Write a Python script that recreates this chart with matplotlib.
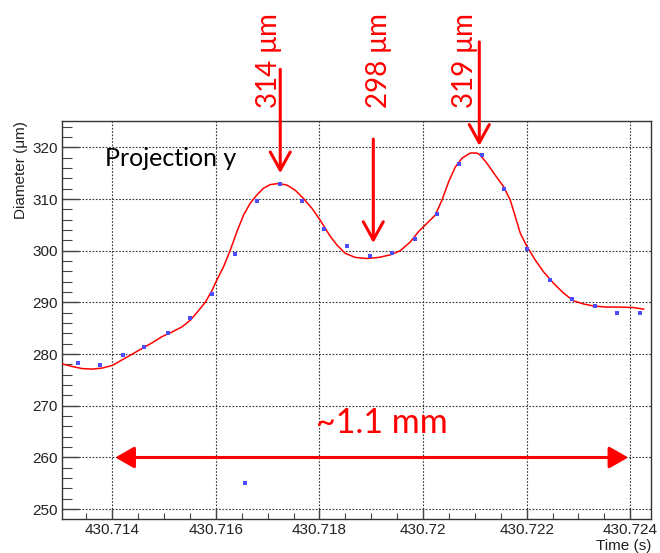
import matplotlib
matplotlib.use('Agg')
import matplotlib.pyplot as plt
from matplotlib.ticker import AutoMinorLocator

# measured points (blue dots)
t_points = [430.713338, 430.713768, 430.714207, 430.714618, 430.715068, 430.715506,
            430.715931, 430.716361, 430.716568, 430.716799, 430.717230, 430.717662,
            430.718093, 430.718537, 430.718967, 430.719400, 430.719836, 430.720268,
            430.720699, 430.721137, 430.721568, 430.722006, 430.722442, 430.722875,
            430.723311, 430.723743, 430.724180]
d_points = [278.2, 277.9, 279.9, 281.3, 284.0, 286.9,
            291.6, 299.3, 255.1, 309.6, 312.9, 309.7,
            304.3, 301.0, 299.0, 299.5, 302.3, 307.2,
            316.8, 318.6, 312.0, 300.4, 294.4, 290.6,
            289.3, 288.0, 288.0]

# smoothed curve (red)
t_curve = [430.713035, 430.713228, 430.713421, 430.713614, 430.713807, 430.714000,
           430.714193, 430.714386, 430.714579, 430.714772, 430.714965, 430.715158,
           430.715351, 430.715512, 430.715674, 430.715801, 430.715931, 430.715988,
           430.716149, 430.716278, 430.716407, 430.716535, 430.716664, 430.716793,
           430.716921, 430.717050, 430.717210, 430.717373, 430.717533, 430.717693,
           430.717855, 430.718015, 430.718208, 430.718338, 430.718498, 430.718691,
           430.718917, 430.719141, 430.719367, 430.719560, 430.719753, 430.719913,
           430.720075, 430.720236, 430.720365, 430.720492, 430.720622, 430.720751,
           430.720911, 430.721041, 430.721104, 430.721234, 430.721394, 430.721554,
           430.721683, 430.721780, 430.721876, 430.722006, 430.722166, 430.722326,
           430.722519, 430.722712, 430.722905, 430.723099, 430.723292, 430.723550,
           430.723807, 430.724064, 430.724257]
d_curve = [278.1, 277.6, 277.2, 277.1, 277.3, 277.8,
           278.9, 280.0, 281.1, 282.2, 283.4, 284.3,
           285.3, 286.6, 288.5, 290.1, 292.4, 293.7,
           296.9, 300.1, 303.7, 306.9, 309.2, 310.8,
           312.1, 312.8, 313.0, 312.7, 311.7, 310.1,
           308.2, 305.9, 302.8, 301.1, 299.5, 298.7,
           298.5, 298.7, 299.2, 300.0, 301.7, 303.7,
           305.3, 306.9, 309.8, 313.3, 316.2, 317.9,
           318.9, 318.9, 318.5, 316.9, 314.6, 312.4,
           309.8, 306.6, 303.4, 300.8, 298.2, 295.9,
           293.7, 291.8, 290.3, 289.7, 289.3, 289.1,
           289.1, 289.0, 288.7]

xtick_vals = [430.714, 430.716, 430.718, 430.720, 430.722, 430.724]
xtick_labels = ['430.714', '430.716', '430.718', '430.72', '430.722', '430.724']
ytick_vals = [250, 260, 270, 280, 290, 300, 310, 320]

# peak annotations
peak_labels = ['314 \u03bcm', '298 \u03bcm', '319 \u03bcm']
peak_arrow_t = [430.717243, 430.719039, 430.721085]
peak_arrow_top = [335.1, 321.6, 340.4]
peak_arrow_tip = [315.0, 301.5, 320.3]
peak_text_t = [430.717031, 430.719145, 430.720815]

span_start, span_end, span_y = 430.714058, 430.723961, 260.0

RED = '#ff0000'
CAL = ['Lato', 'DejaVu Sans']
ARIAL = ['Liberation Sans', 'DejaVu Sans']

fig = plt.figure(figsize=(6.6, 5.53), dpi=100)
ax = fig.add_axes([0.0939, 0.0615, 0.8925, 0.7197])

ax.plot(t_curve, d_curve, color=RED, lw=1.1, zorder=3)
ax.plot(t_points, d_points, 's', color='#4d4dff', ms=2.2, mew=0, zorder=4)

ax.set_xlim(430.71303, 430.7244)
ax.set_ylim(248.1, 325.1)
ax.set_xticks(xtick_vals, labels=xtick_labels)
ax.set_yticks(ytick_vals)
ax.xaxis.set_minor_locator(AutoMinorLocator(4))
ax.yaxis.set_minor_locator(AutoMinorLocator(5))
ax.tick_params(which='both', direction='in', top=False, right=False, color='#444444')
ax.tick_params(which='major', axis='x', length=8, width=1, pad=3)
ax.tick_params(which='minor', axis='x', length=4.5, width=0.8)
ax.tick_params(which='major', axis='y', length=12, width=1, pad=3)
ax.tick_params(which='minor', axis='y', length=7, width=0.8)
for lab in ax.get_xticklabels() + ax.get_yticklabels():
    lab.set_fontfamily(ARIAL)
    lab.set_fontsize(11)
    lab.set_color('#222222')

ax.grid(True, which='major', color='#333333', lw=0.8, linestyle=(0, (1.5, 1.5)))
for s in ax.spines.values():
    s.set_color('#333333')
    s.set_linewidth(1.0)

ax.set_xlabel('Time (s)', family=ARIAL, fontsize=11, color='#222222', loc='right', labelpad=1)
ax.set_ylabel('Diameter (\u03bcm)', family=ARIAL, fontsize=11, color='#222222', loc='top', labelpad=0)
ax.yaxis.set_label_coords(-0.058, 1.0)

ax.text(430.713865, 316.4, 'Projection y', family=CAL, fontsize=18, color='black',
        ha='left', va='baseline')

for lab, ta, top, tip, tt in zip(peak_labels, peak_arrow_t, peak_arrow_top,
                                 peak_arrow_tip, peak_text_t):
    ax.annotate('', xy=(ta, tip), xytext=(ta, top), annotation_clip=False,
                arrowprops=dict(arrowstyle='->,head_length=0.65,head_width=0.36',
                                color=RED, lw=2.2, shrinkA=0, shrinkB=0,
                                mutation_scale=20))
    ax.text(tt, 336.8, lab, family=CAL, fontsize=20, color=RED, rotation=90,
            ha='center', va='center', clip_on=False)

ax.annotate('', xy=(span_end, span_y), xytext=(span_start, span_y),
            arrowprops=dict(arrowstyle='<|-|>,head_length=0.58,head_width=0.33',
                            color=RED, lw=2.2, shrinkA=0, shrinkB=0,
                            mutation_scale=20))
ax.text(430.719203, 264.8, '~1.1 mm', family=CAL, fontsize=24.5, color=RED,
        ha='center', va='baseline')

fig.savefig('out.png', dpi=100)
